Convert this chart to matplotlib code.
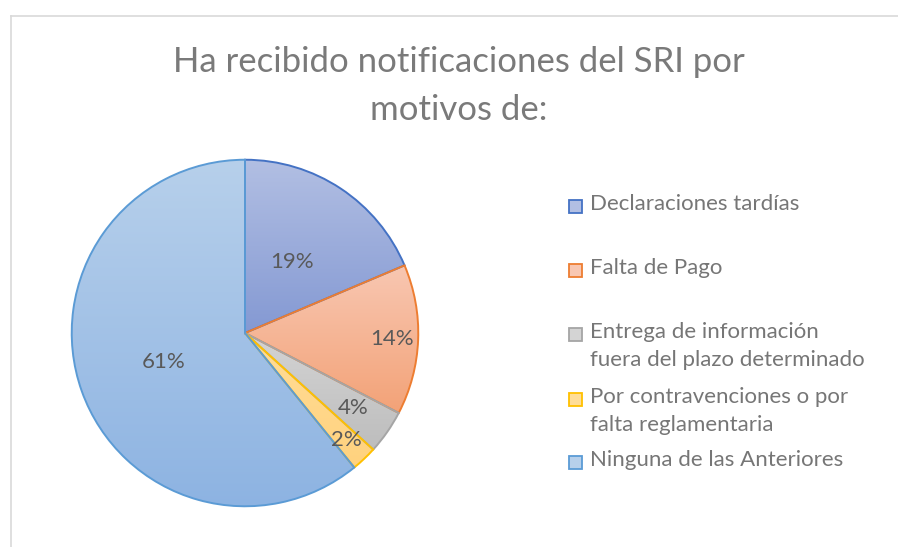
import numpy as np
import matplotlib
matplotlib.use("Agg")
import matplotlib.pyplot as plt
from matplotlib.colors import LinearSegmentedColormap
from matplotlib.patches import Rectangle
from matplotlib.lines import Line2D

plt.rcParams['font.family'] = ['Lato', 'DejaVu Sans']

# data (percent of respondents)
categories = ["Declaraciones tardías",
              "Falta de Pago",
              "Entrega de información\nfuera del plazo determinado",
              "Por contravenciones o por\nfalta reglamentaria",
              "Ninguna de las Anteriores"]
values = [18.6, 14.0, 4.1, 2.4, 60.8]
title = "Ha recibido notificaciones del SRI por\nmotivos de:"

# excel-like gradient fills (light top -> dark bottom) and outlines
light = ["#b2bfe3", "#f8c7b2", "#d4d4d4", "#ffdd98", "#b7d0eb"]
dark = ["#8499d3", "#f3a277", "#bdbdbd", "#ffd27e", "#8db3e2"]
edges = ["#4472c4", "#ed7d31", "#a5a5a5", "#ffc000", "#5b9bd5"]
label_dist = [0.49, 0.85, 0.76, 0.85, 0.50]

W, H = 898, 547
fig = plt.figure(figsize=(W / 100, H / 100), dpi=100)

# chart frame (only left/top visible in the crop)
fig.add_artist(Line2D([11 / W, 11 / W], [0, 1 - 16 / H], color="#d9d9d9", lw=1.2))
fig.add_artist(Line2D([11 / W, 1], [1 - 16 / H, 1 - 16 / H], color="#d9d9d9", lw=1.2))

fig.text(459 / W, 1 - 86 / H, title, ha="center", va="center", fontsize=25,
         color="#7a7a7a", linespacing=1.58)

cx, cy, r = 245, 333, 175
ax = fig.add_axes([(cx - r) / W, 1 - (cy + r) / H, 2 * r / W, 2 * r / H])
ax.set_aspect("equal")
ax.axis("off")

wedges, _, autotexts = ax.pie(values, startangle=90, counterclock=False,
                              radius=1, autopct="%1.0f%%", pctdistance=0.6,
                              wedgeprops=dict(linewidth=1.4))

for i, w in enumerate(wedges):
    w.set_facecolor("none")
    w.set_edgecolor(edges[i])
    w.set_zorder(3)
    verts = w.get_path().vertices
    x0, x1 = verts[:, 0].min(), verts[:, 0].max()
    y0, y1 = verts[:, 1].min(), verts[:, 1].max()
    cmap = LinearSegmentedColormap.from_list("g%d" % i, [dark[i], light[i]])
    grad = np.linspace(0, 1, 256).reshape(-1, 1)
    im = ax.imshow(grad, cmap=cmap, extent=(x0, x1, y0, y1), origin="lower",
                   aspect="auto", zorder=2, interpolation="bilinear")
    im.set_clip_path(w)
    # data label placement
    mid = np.deg2rad((w.theta1 + w.theta2) / 2)
    t = autotexts[i]
    t.set_position((label_dist[i] * np.cos(mid), label_dist[i] * np.sin(mid)))
    t.set_fontsize(16)
    t.set_color("#595959")
    t.set_zorder(5)

ax.set_xlim(-1.01, 1.01)
ax.set_ylim(-1.01, 1.01)

# legend, drawn by hand to keep Excel's spacing
leg_y = [204, 268, 332, 397, 460]
line_h = 28
for i, lab in enumerate(categories):
    y = leg_y[i]
    n = lab.count("\n")
    fig.add_artist(Rectangle((569 / W, 1 - (y + 9) / H), 13 / W, 13 / H,
                             facecolor=light[i], edgecolor=edges[i], lw=1.3))
    fig.text(590 / W, 1 - (y + n * line_h / 2) / H, lab, ha="left", va="center",
             fontsize=16, color="#767676", linespacing=1.47)

fig.savefig("out.png", dpi=100)
